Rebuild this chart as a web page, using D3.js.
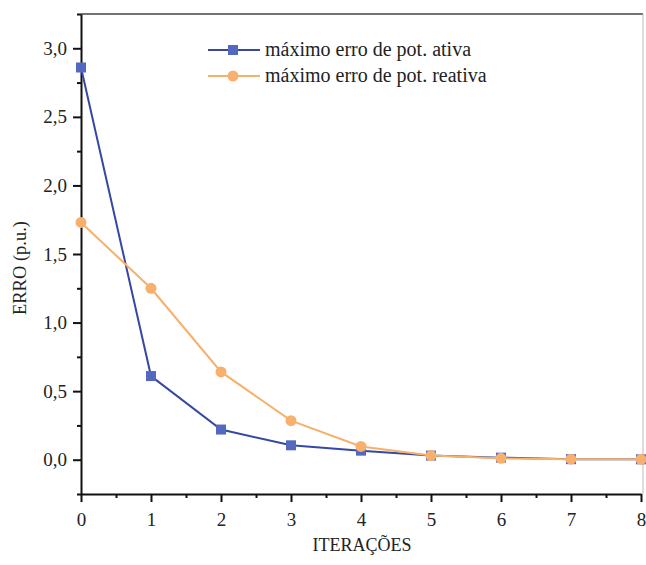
<!DOCTYPE html>
<html><head><meta charset="utf-8">
<script src="https://cdn.jsdelivr.net/npm/d3@7/dist/d3.min.js"></script>
<style>body{margin:0;background:#fff}svg{display:block}</style>
</head><body><svg id="c" width="646" height="565"></svg>
<script>
const iterations = [0,1,2,3,4,5,6,7,8];
const ativa = [2.86,0.61,0.22,0.105,0.066,0.03,0.015,0.004,0.003];
const reativa = [1.73,1.25,0.64,0.285,0.097,0.03,0.01,0.004,0.003];
const seriesNames = ["máximo erro de pot. ativa","máximo erro de pot. reativa"];
const yTicks = [0,0.5,1,1.5,2,2.5,3];
const xTicks = [0,1,2,3,4,5,6,7,8];
const xLabel = "ITERAÇÕES", yLabel = "ERRO (p.u.)";

const FONT = "'Liberation Serif','Times New Roman',Times,serif";
const svg = d3.select("#c");
const x = d3.scaleLinear().domain([0,8]).range([81,641]);
const y = d3.scaleLinear().domain([-0.25,3.25]).range([494,14]);
const fmt = d => d3.format(".1f")(d).replace(".", ",");

// frame top/right
svg.append("line").attr("x1",81).attr("x2",643).attr("y1",y(3.25)).attr("y2",y(3.25)).attr("stroke","#444").attr("stroke-width",1.5);
svg.append("line").attr("x1",643).attr("x2",643).attr("y1",y(3.25)).attr("y2",y(-0.25)).attr("stroke","#bbb").attr("stroke-width",1);

const yMinor = d3.range(-0.25,3.26,0.25).filter(v=>Math.abs(v*2-Math.round(v*2))>0.01);
const xMinor = d3.range(0.5,8,1);
const gy = svg.append("g").attr("transform","translate(81,0)");
gy.call(d3.axisLeft(y).tickValues(yTicks).tickFormat(fmt).tickSize(8).tickPadding(6).tickSizeOuter(0));
svg.append("g").attr("transform","translate(81,0)").call(d3.axisLeft(y).tickValues(yMinor).tickFormat("").tickSize(4).tickSizeOuter(0))
  .select(".domain").remove();
const gx = svg.append("g").attr("transform","translate(0,494)");
gx.call(d3.axisBottom(x).tickValues(xTicks).tickFormat(d3.format("d")).tickSize(8).tickPadding(11).tickSizeOuter(0));
svg.append("g").attr("transform","translate(0,494)").call(d3.axisBottom(x).tickValues(xMinor).tickFormat("").tickSize(4).tickSizeOuter(0))
  .select(".domain").remove();
svg.selectAll(".domain").attr("stroke","#111").attr("stroke-width",2);
svg.selectAll(".tick line").attr("stroke","#111").attr("stroke-width",2);
svg.selectAll(".tick text").attr("font-size",19).attr("fill","#222");

// axis labels
svg.append("text").attr("x",362).attr("y",551).attr("text-anchor","middle").attr("font-size",18).text(xLabel);
svg.append("text").attr("transform","translate(26,268) rotate(-90)").attr("text-anchor","middle").attr("font-size",18.5).text(yLabel);

const line = d3.line().x((d,i)=>x(iterations[i])).y(d=>y(d));
const blueLine="#3448a4", blueMark="#5468c0", orLine="#f6b06a", orMark="#f8b06e";

svg.append("path").datum(ativa).attr("d",line).attr("fill","none").attr("stroke",blueLine).attr("stroke-width",2);
svg.selectAll(".sq").data(ativa).enter().append("rect")
  .attr("x",(d,i)=>x(iterations[i])-5).attr("y",d=>y(d)-5).attr("width",10).attr("height",10).attr("fill",blueMark);
svg.append("path").datum(reativa).attr("d",line).attr("fill","none").attr("stroke",orLine).attr("stroke-width",2);
svg.selectAll(".ci").data(reativa).enter().append("circle")
  .attr("cx",(d,i)=>x(iterations[i])).attr("cy",d=>y(d)).attr("r",5.5).attr("fill",orMark);

// legend
const lg = svg.append("g");
[[blueLine,blueMark,"sq",50],[orLine,orMark,"ci",76]].forEach((s,k)=>{
  lg.append("line").attr("x1",208).attr("x2",260).attr("y1",s[3]).attr("y2",s[3]).attr("stroke",s[0]).attr("stroke-width",2);
  if(s[2]==="sq") lg.append("rect").attr("x",228).attr("y",s[3]-5).attr("width",10).attr("height",10).attr("fill",s[1]);
  else lg.append("circle").attr("cx",233).attr("cy",s[3]).attr("r",5.5).attr("fill",s[1]);
  lg.append("text").attr("x",265).attr("y",s[3]+6).attr("font-size",20).text(seriesNames[k]);
});
svg.selectAll("text").style("font-family",FONT).attr("fill","#222");
</script></body></html>
